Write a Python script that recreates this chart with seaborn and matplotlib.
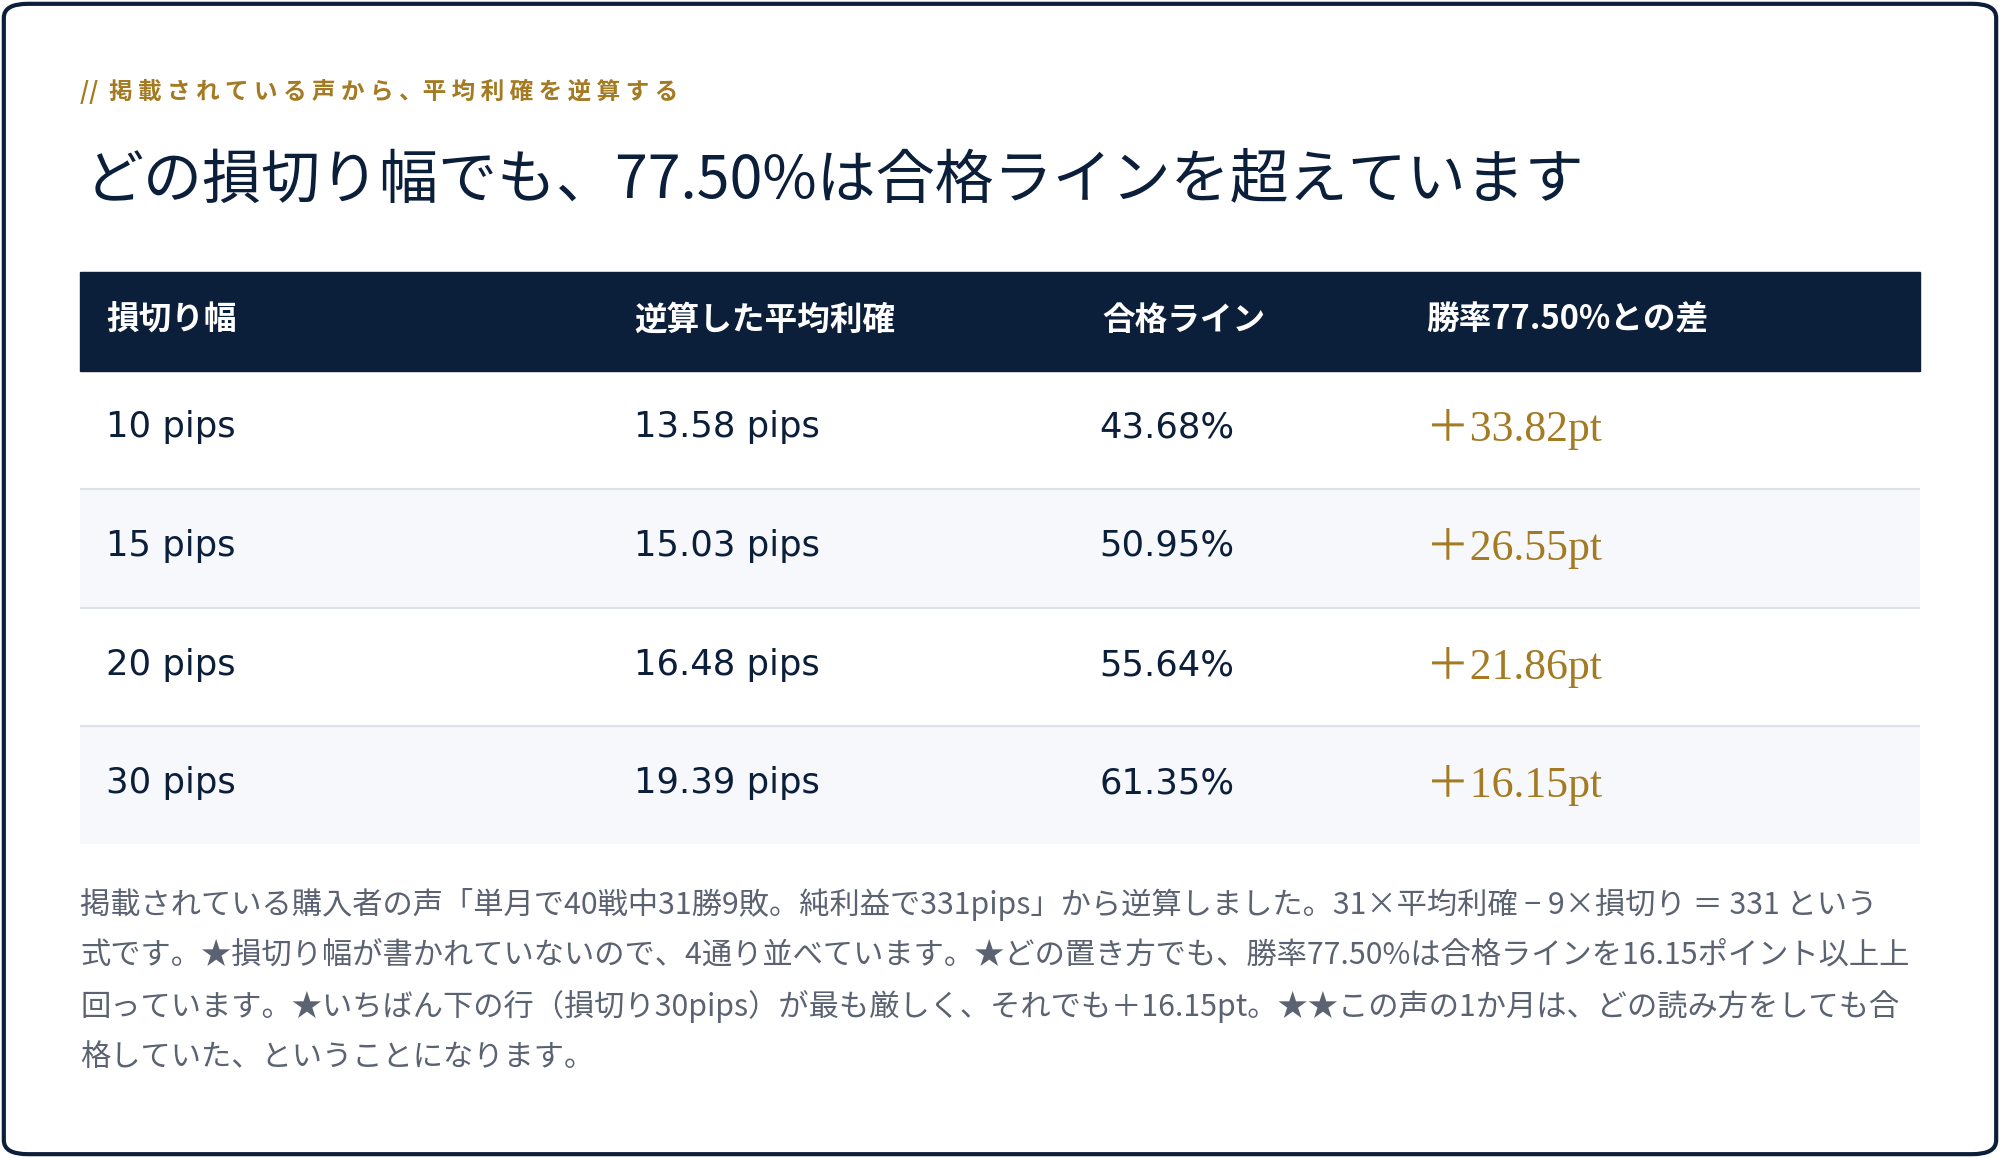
import matplotlib
matplotlib.use("Agg")
import matplotlib.pyplot as plt
from matplotlib.colors import ListedColormap
from matplotlib.patches import FancyBboxPatch, Rectangle
import seaborn as sns
import numpy as np

# ---- data ----
kicker = "//  掲 載 さ れ て い る 声 か ら 、平 均 利 確 を 逆 算 す る"
title = "どの損切り幅でも、77.50%は合格ラインを超えています"
headers = ["損切り幅", "逆算した平均利確", "合格ライン", "勝率77.50%との差"]
stop_loss = ["10 pips", "15 pips", "20 pips", "30 pips"]
avg_profit = ["13.58 pips", "15.03 pips", "16.48 pips", "19.39 pips"]
pass_line = ["43.68%", "50.95%", "55.64%", "61.35%"]
margin = ["＋33.82pt", "＋26.55pt", "＋21.86pt", "＋16.15pt"]
notes = [
    "掲載されている購入者の声「単月で40戦中31勝9敗。純利益で331pips」から逆算しました。31×平均利確 − 9×損切り ＝ 331 という",
    "式です。★損切り幅が書かれていないので、4通り並べています。★どの置き方でも、勝率77.50%は合格ラインを16.15ポイント以上上",
    "回っています。★いちばん下の行（損切り30pips）が最も厳しく、それでも＋16.15pt。★★この声の1か月は、どの読み方をしても合",
    "格していた、ということになります。",
]

NAVY = "#0c1f3a"
GOLD = "#a47a22"
GRAY = "#5b6372"
W, H = 1568, 908  # layout units (reference px)

sns.set_theme(style="white")
plt.rcParams["font.family"] = ["Noto Sans CJK JP", "DejaVu Sans"]

fig = plt.figure(figsize=(20, 11.58), dpi=100)
fig.patch.set_facecolor("white")


def fx(x):
    return x / W


def fy(y):
    return 1 - y / H


# card border
fig.patches.append(FancyBboxPatch((fx(3), fy(905)), fx(1562), 902 / H,
                                  boxstyle="round,pad=0,rounding_size=0.012",
                                  transform=fig.transFigure, fill=False,
                                  edgecolor=NAVY, linewidth=3))

fig.text(fx(63), fy(72), kicker, color=GOLD, fontsize=17, fontweight="bold", va="center")
fig.text(fx(66), fy(142), title, color=NAVY, fontsize=42.5, va="center")

# table body backgrounds via heatmap
row_tops = [291, 383, 477, 570, 662]
ax = fig.add_axes([fx(63), fy(662), fx(1505 - 63), (662 - 291) / H])
shade = np.array([[0], [1], [0], [1]])
sns.heatmap(shade, ax=ax, cmap=ListedColormap(["#ffffff", "#f6f8fb"]),
            cbar=False, xticklabels=False, yticklabels=False)
for y in [1, 2, 3]:
    ax.axhline(y, color="#dde2e9", linewidth=1.5)
ax.set_axis_off()

# header band
fig.patches.append(Rectangle((fx(63), fy(291)), fx(1505 - 63), (291 - 213) / H,
                             transform=fig.transFigure, color=NAVY))
col_x = [83, 497, 864, 1118]
for x, h in zip(col_x, headers):
    fig.text(fx(x), fy(251), h, color="white", fontsize=23.5, fontweight="bold", va="center")

for i in range(4):
    yc = (row_tops[i] + row_tops[i + 1]) / 2 - 2
    for x, s in [(col_x[0], stop_loss[i]), (col_x[1], avg_profit[i]), (862, pass_line[i])]:
        fig.text(fx(x), fy(yc), s, color=NAVY, fontsize=25.5, va="center",
                 family=["DejaVu Sans"])
    fig.text(fx(col_x[3]), fy(yc + 2), margin[i], color=GOLD, fontsize=31.5, va="center",
             family=["Liberation Serif", "Noto Sans CJK JP"])

for k, line in enumerate(notes):
    fig.text(fx(63), fy(709 + 40 * k), line, color=GRAY, fontsize=21.8, va="center")

fig.savefig("out.png", dpi=100, facecolor="white")
